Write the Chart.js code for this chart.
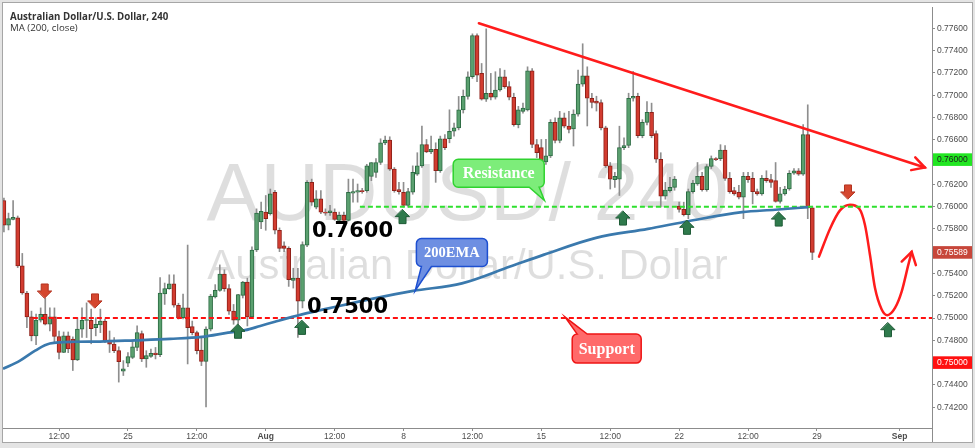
<!DOCTYPE html>
<html>
<head>
<meta charset="utf-8">
<title>AUDUSD 240</title>
<script src="https://cdn.jsdelivr.net/npm/chart.js"></script>
<style>
  html, body { margin: 0; padding: 0; background: #fff; }
  #wrap { width: 975px; height: 448px; }
</style>
</head>
<body>
<div id="wrap"><canvas id="js--chart" width="975" height="448"></canvas></div>
<script>
// 4h candles. x = bar number (Mon 25 Jul 00:00 = bar 30), y = price
const firstBar = 3;

const opens = [
  0.76055, 0.75833, 0.75886, 0.75900, 0.75468, 0.75225, 0.75011, 0.74840, 0.74980, 0.75033,
  0.74944, 0.75011, 0.74834, 0.74691, 0.74840, 0.74811, 0.74624, 0.74900, 0.74978, 0.74980,
  0.74914, 0.74938, 0.74973, 0.74802, 0.74766, 0.74707, 0.74523, 0.74594, 0.74647, 0.74736,
  0.74860, 0.74633, 0.74656, 0.74686, 0.74671, 0.75216, 0.75264, 0.75308, 0.75115, 0.75003,
  0.75091, 0.74923, 0.74869, 0.74713, 0.74611, 0.74900, 0.75189, 0.75249, 0.75394, 0.75264,
  0.75062, 0.74980, 0.75204, 0.75323, 0.75009, 0.75611, 0.75862, 0.75951, 0.75936, 0.76129,
  0.75788, 0.75649, 0.75625, 0.75338, 0.75358, 0.75151, 0.75655, 0.76218, 0.75996, 0.76069,
  0.75951, 0.75945, 0.75951, 0.75877, 0.75922, 0.75877, 0.76120, 0.76129, 0.76144, 0.76144,
  0.76271, 0.76307, 0.76396, 0.76573, 0.76597, 0.76336, 0.76153, 0.76129, 0.76011, 0.76129,
  0.76292, 0.76366, 0.76558, 0.76491, 0.76514, 0.76322, 0.76609, 0.76609, 0.76677, 0.76707,
  0.76869, 0.76989, 0.77166, 0.77536, 0.77196, 0.76965, 0.77018, 0.76982, 0.77047, 0.77166,
  0.77077, 0.76982, 0.76736, 0.76855, 0.76869, 0.77220, 0.76558, 0.76529, 0.76402, 0.76455,
  0.76757, 0.76594, 0.76796, 0.76722, 0.76698, 0.76831, 0.77100, 0.77175, 0.76973, 0.76947,
  0.76935, 0.76707, 0.76366, 0.76242, 0.76247, 0.76529, 0.76549, 0.76973, 0.76989, 0.76638,
  0.76757, 0.76846, 0.76656, 0.76425, 0.76093, 0.76144, 0.76173, 0.76004, 0.75975, 0.75927,
  0.76135, 0.76203, 0.76271, 0.76153, 0.76360, 0.76431, 0.76431, 0.76508, 0.76253, 0.76144,
  0.76129, 0.76084, 0.76271, 0.76253, 0.76135, 0.76114, 0.76253, 0.76242, 0.76233, 0.76046,
  0.76114, 0.76158, 0.76300, 0.76322, 0.76292, 0.76647, 0.75989
];
const highs = [
  0.76076, 0.75942, 0.76055, 0.75916, 0.75580, 0.75240, 0.75062, 0.75035, 0.75091, 0.75180,
  0.75091, 0.75091, 0.74884, 0.74875, 0.74875, 0.74831, 0.75003, 0.75091, 0.75136, 0.75080,
  0.75003, 0.75080, 0.74991, 0.74884, 0.74825, 0.74742, 0.74618, 0.74689, 0.74795, 0.74929,
  0.74884, 0.74707, 0.74722, 0.74736, 0.75364, 0.75314, 0.75388, 0.75388, 0.75133, 0.75216,
  0.75655, 0.74973, 0.74884, 0.74825, 0.74920, 0.75213, 0.75300, 0.75477, 0.75433, 0.75300,
  0.75122, 0.75213, 0.75329, 0.75358, 0.75640, 0.75980, 0.76040, 0.76100, 0.76158, 0.76147,
  0.75809, 0.75684, 0.75640, 0.75447, 0.75447, 0.75684, 0.76233, 0.76247, 0.76144, 0.76144,
  0.75980, 0.76011, 0.75980, 0.75951, 0.75951, 0.76247, 0.76247, 0.76203, 0.76164, 0.76380,
  0.76396, 0.76431, 0.76609, 0.76633, 0.76627, 0.76351, 0.76218, 0.76218, 0.76164, 0.76366,
  0.76484, 0.76722, 0.76603, 0.76633, 0.76573, 0.76633, 0.76647, 0.76869, 0.76751, 0.76989,
  0.77047, 0.77211, 0.77551, 0.77551, 0.77285, 0.77596, 0.77196, 0.77211, 0.77240, 0.77225,
  0.77122, 0.77018, 0.76900, 0.76929, 0.77255, 0.77240, 0.76603, 0.76603, 0.76603, 0.76781,
  0.76796, 0.76855, 0.76840, 0.76855, 0.76869, 0.77225, 0.77462, 0.77255, 0.77018, 0.76991,
  0.76958, 0.76722, 0.76396, 0.76307, 0.76722, 0.76618, 0.77018, 0.77213, 0.77018, 0.76781,
  0.76944, 0.76929, 0.76680, 0.76484, 0.76218, 0.76262, 0.76271, 0.76040, 0.76040, 0.76158,
  0.76236, 0.76396, 0.76307, 0.76378, 0.76455, 0.76440, 0.76556, 0.76547, 0.76307, 0.76173,
  0.76191, 0.76307, 0.76307, 0.76307, 0.76158, 0.76280, 0.76322, 0.76289, 0.76396, 0.76173,
  0.76182, 0.76324, 0.76342, 0.76342, 0.76736, 0.76914, 0.76004
];
const lows = [
  0.75773, 0.75791, 0.75880, 0.75453, 0.75213, 0.74914, 0.74795, 0.74760, 0.74964, 0.74938,
  0.74884, 0.74780, 0.74633, 0.74689, 0.74689, 0.74529, 0.74618, 0.74825, 0.74825, 0.74769,
  0.74840, 0.74869, 0.74778, 0.74691, 0.74689, 0.74425, 0.74484, 0.74564, 0.74635, 0.74707,
  0.74609, 0.74558, 0.74647, 0.74633, 0.74653, 0.75122, 0.75258, 0.75098, 0.74991, 0.74991,
  0.74588, 0.74849, 0.74677, 0.74573, 0.74203, 0.74884, 0.75180, 0.75240, 0.75240, 0.75033,
  0.74944, 0.74929, 0.75180, 0.74929, 0.75000, 0.75596, 0.75803, 0.75788, 0.75924, 0.75756,
  0.75596, 0.75596, 0.75284, 0.75269, 0.74825, 0.75091, 0.75640, 0.76011, 0.75980, 0.75936,
  0.75922, 0.75922, 0.75877, 0.75862, 0.75871, 0.75871, 0.76040, 0.76040, 0.76120, 0.76129,
  0.76233, 0.76262, 0.76378, 0.76556, 0.76324, 0.76129, 0.76111, 0.75996, 0.75996, 0.76111,
  0.76280, 0.76351, 0.76484, 0.76476, 0.76218, 0.76307, 0.76511, 0.76573, 0.76633, 0.76689,
  0.76840, 0.76965, 0.77151, 0.77122, 0.76956, 0.76944, 0.76958, 0.76965, 0.77036, 0.77062,
  0.76958, 0.76722, 0.76707, 0.76840, 0.76858, 0.76529, 0.76440, 0.76366, 0.76378, 0.76440,
  0.76573, 0.76573, 0.76707, 0.76662, 0.76544, 0.76813, 0.77080, 0.76724, 0.76885, 0.76858,
  0.76689, 0.76351, 0.76158, 0.76173, 0.76100, 0.76511, 0.76529, 0.76947, 0.76618, 0.76618,
  0.76733, 0.76618, 0.76396, 0.75996, 0.76067, 0.76129, 0.76147, 0.75951, 0.75916, 0.75892,
  0.76120, 0.76191, 0.76138, 0.76138, 0.76342, 0.76413, 0.76413, 0.76236, 0.76120, 0.76102,
  0.76069, 0.75892, 0.76218, 0.76025, 0.76102, 0.76102, 0.76218, 0.76173, 0.76040, 0.76031,
  0.76102, 0.76147, 0.76289, 0.76280, 0.76280, 0.75892, 0.75524
];
const closes = [
  0.75833, 0.75892, 0.75904, 0.75468, 0.75225, 0.75011, 0.74840, 0.74982, 0.75033, 0.74944,
  0.75011, 0.74834, 0.74691, 0.74840, 0.74722, 0.74624, 0.74900, 0.74980, 0.74985, 0.74905,
  0.74944, 0.74973, 0.74795, 0.74766, 0.74707, 0.74609, 0.74544, 0.74653, 0.74742, 0.74869,
  0.74633, 0.74662, 0.74683, 0.74671, 0.75225, 0.75264, 0.75308, 0.75115, 0.75003, 0.75091,
  0.74914, 0.74869, 0.74707, 0.74611, 0.74900, 0.75196, 0.75249, 0.75394, 0.75264, 0.75062,
  0.74980, 0.75211, 0.75323, 0.75009, 0.75611, 0.75942, 0.75957, 0.75892, 0.76114, 0.75788,
  0.75625, 0.75625, 0.75344, 0.75358, 0.75151, 0.75660, 0.76218, 0.76040, 0.76069, 0.75951,
  0.75942, 0.75963, 0.75886, 0.75922, 0.75877, 0.76129, 0.76135, 0.76144, 0.76135, 0.76366,
  0.76396, 0.76396, 0.76573, 0.76597, 0.76336, 0.76144, 0.76135, 0.76011, 0.76135, 0.76307,
  0.76366, 0.76558, 0.76491, 0.76514, 0.76322, 0.76609, 0.76529, 0.76677, 0.76707, 0.76869,
  0.76989, 0.77166, 0.77536, 0.77181, 0.76965, 0.77018, 0.76982, 0.77047, 0.77166, 0.77077,
  0.76982, 0.76736, 0.76869, 0.76885, 0.77220, 0.76558, 0.76484, 0.76411, 0.76455, 0.76757,
  0.76594, 0.76796, 0.76722, 0.76692, 0.76831, 0.77100, 0.77175, 0.76973, 0.76935, 0.76929,
  0.76707, 0.76366, 0.76247, 0.76271, 0.76529, 0.76549, 0.76973, 0.76989, 0.76638, 0.76757,
  0.76846, 0.76638, 0.76425, 0.76093, 0.76149, 0.76173, 0.76247, 0.75975, 0.75927, 0.76135,
  0.76212, 0.76271, 0.76153, 0.76360, 0.76431, 0.76422, 0.76508, 0.76253, 0.76135, 0.76114,
  0.76084, 0.76271, 0.76242, 0.76135, 0.76114, 0.76253, 0.76233, 0.76218, 0.76046, 0.76114,
  0.76158, 0.76300, 0.76322, 0.76292, 0.76647, 0.75989, 0.75589
];

// 200 EMA read at a few bars
const emaBars = [2.8, 6.5, 9.8, 13.0, 18.5, 23.9, 31.5, 39.2, 46.1, 51.8, 55.5, 58.8, 62.0,
  67.9, 75.5, 83.1, 92.1, 102.7, 113.2, 120.6, 131.9, 143.2, 152.2, 163.7, 170.9, 178.1];
const emaValues = [0.74544, 0.74618, 0.74707, 0.74771, 0.74787, 0.74789, 0.74800, 0.74813,
  0.74831, 0.74869, 0.74891, 0.74929, 0.74967, 0.75033, 0.75104, 0.75172, 0.75244, 0.75311,
  0.75462, 0.75569, 0.75720, 0.75800, 0.75871, 0.75951, 0.75972, 0.75996];

const xTickBars = [15, 30, 45, 60, 75, 90, 105, 120, 135, 150, 165, 180, 198];
const xTickLabels = ['12:00', '25', '12:00', 'Aug', '12:00', '8', '12:00', '15', '12:00', '22', '12:00', '29', 'Sep'];
const boldXLabels = ['Aug', 'Sep'];

const yTickValues = [0.742, 0.744, 0.746, 0.748, 0.750, 0.752, 0.754, 0.756, 0.758,
  0.760, 0.762, 0.764, 0.766, 0.768, 0.770, 0.772, 0.774, 0.776];
const yTickLabels = ['0.74200', '0.74400', '', '0.74800', '0.75000', '0.75200', '0.75400', '',
  '0.75800', '0.76000', '0.76200', '', '0.76600', '0.76800', '0.77000', '0.77200', '0.77400', '0.77600'];

// price boxes on the right axis
const axisBoxPrices = [0.76422, 0.75589, 0.74600];
const axisBoxLabels = ['0.76000', '0.75589', '0.75000'];
const axisBoxColors = ['#22e622', '#c7463a', '#ff1010'];
const axisBoxText = ['#1b1b1b', '#ffffff', '#ffffff'];

// drawings
const resistanceLevel = 0.7600;
const resistanceFrom = 80.5;
const supportLevel = 0.7500;
const supportFrom = 9.3;
const trendBars = [106.4, 203.5];
const trendPrices = [0.77646, 0.76351];
const pathBars = [180.45, 182.85, 185.02, 187.2, 189.22, 190.47, 191.55, 192.64, 194.1, 195.32, 197.0, 198.46, 199.89, 200.63];
const pathPrices = [0.75551, 0.75802, 0.75966, 0.76016, 0.75980, 0.75833, 0.75566, 0.75269, 0.75077, 0.75026, 0.75091, 0.75240, 0.75477, 0.75595];
const downArrowBars = [11.88, 22.83, 186.76];
const downArrowPrices = [0.75180, 0.75091, 0.76069];
const upArrowBars = [53.96, 67.9, 89.78, 137.78, 151.71, 171.68, 195.47];
const upArrowPrices = [0.74944, 0.74979, 0.75973, 0.75960, 0.75877, 0.75951, 0.74958];

const callouts = [
  { text: 'Resistance', bar: 110.72, price: 0.76300, w: 91, h: 28, side: 'bottom', tipBar: 120.67, tipPrice: 0.76055,
    fill: '#7ded7a', edge: '#2fd22f', size: 16, base: 'right' },
  { text: 'Support', bar: 134.23, price: 0.74726, w: 69, h: 29, side: 'top', tipBar: 125.15, tipPrice: 0.75009,
    fill: '#ff6a6a', edge: '#ee1515', size: 16, base: 'left' },
  { text: '200EMA', bar: 100.53, price: 0.75588, w: 71, h: 28, side: 'bottom', tipBar: 92.54, tipPrice: 0.75246,
    fill: '#6e8fe2', edge: '#1d4fd0', size: 14.5, base: 'left' }
];
const levelTexts = ['0.7600', '0.7500'];
const levelTextBars = [70.07, 68.98];
const levelTextPrices = [0.75729, 0.75044];

const bars = opens.map(function(o, k){ return firstBar + k; });
const isUp = opens.map(function(o, k){ return closes[k] >= o; });

function calloutPath(c, x, y, w, h, r, side, b1, b2, tx, ty){
  c.beginPath();
  c.moveTo(x + r, y);
  if (side === 'top'){ c.lineTo(b1, y); c.lineTo(tx, ty); c.lineTo(b2, y); }
  c.lineTo(x + w - r, y);
  c.arcTo(x + w, y, x + w, y + r, r);
  c.lineTo(x + w, y + h - r);
  c.arcTo(x + w, y + h, x + w - r, y + h, r);
  if (side === 'bottom'){ c.lineTo(b2, y + h); c.lineTo(tx, ty); c.lineTo(b1, y + h); }
  c.lineTo(x + r, y + h);
  c.arcTo(x, y + h, x, y + h - r, r);
  c.lineTo(x, y + r);
  c.arcTo(x, y, x + r, y, r);
  c.closePath();
}

function blockArrow(c, tx, ty, dir, fill, edge){
  // dir 1 = pointing down, -1 = pointing up
  const s = dir;
  c.beginPath();
  c.moveTo(tx, ty);
  c.lineTo(tx + 7, ty - 7 * s);
  c.lineTo(tx + 3.5, ty - 7 * s);
  c.lineTo(tx + 3.5, ty - 14 * s);
  c.lineTo(tx - 3.5, ty - 14 * s);
  c.lineTo(tx - 3.5, ty - 7 * s);
  c.lineTo(tx - 7, ty - 7 * s);
  c.closePath();
  c.fillStyle = fill;
  c.fill();
  c.strokeStyle = edge;
  c.lineWidth = 1;
  c.stroke();
}

function arrowHead(c, x0, y0, x1, y1, len, ang){
  const a = Math.atan2(y1 - y0, x1 - x0);
  c.beginPath();
  c.moveTo(x1 - len * Math.cos(a - ang), y1 - len * Math.sin(a - ang));
  c.lineTo(x1, y1);
  c.lineTo(x1 - len * Math.cos(a + ang), y1 - len * Math.sin(a + ang));
  c.stroke();
}

const drawings = {
  id: 'drawings',
  beforeDraw(chart){
    const c = chart.ctx;
    c.save();
    c.fillStyle = '#e4e4e4';
    c.fillRect(0, 0, chart.width, chart.height);
    c.fillStyle = '#ffffff';
    c.fillRect(3, 3, 969, 439);
    c.strokeStyle = '#a6a6a6';
    c.lineWidth = 1;
    c.strokeRect(2.5, 2.5, 970, 440);
    c.restore();
  },
  beforeDatasetsDraw(chart){
    const c = chart.ctx;
    const a = chart.chartArea;
    const cx = (a.left + a.right) / 2;
    const cy = (a.top + a.bottom) / 2;
    c.save();
    c.beginPath();
    c.rect(a.left, a.top, a.right - a.left, a.bottom - a.top);
    c.clip();
    c.fillStyle = 'rgba(0, 0, 0, 0.13)';
    c.textAlign = 'center';
    c.textBaseline = 'alphabetic';
    c.font = '81px "Liberation Sans"';
    c.fillText('AUDUSD/ 240', cx, cy + 2.5);
    c.font = '41.8px "Liberation Sans"';
    c.fillText('Australian Dollar/U.S. Dollar', cx, cy + 61.5);
    c.restore();
  },
  afterDatasetsDraw(chart){
    const c = chart.ctx;
    const xs = chart.scales.x, ys = chart.scales.y;
    const px = function(v){ return xs.getPixelForValue(v); };
    const py = function(v){ return ys.getPixelForValue(v); };
    c.save();

    // arrow heads on the red lines
    c.strokeStyle = '#ff1c1c';
    c.lineWidth = 2.5;
    c.lineCap = 'round';
    arrowHead(c, px(trendBars[0]), py(trendPrices[0]), px(trendBars[1]), py(trendPrices[1]), 14, 0.5);
    const n = pathBars.length;
    arrowHead(c, px(pathBars[n - 3]), py(pathPrices[n - 3]), px(pathBars[n - 1]), py(pathPrices[n - 1]), 14, 0.55);

    // block arrows
    downArrowBars.forEach(function(b, k){
      blockArrow(c, px(b), py(downArrowPrices[k]), 1, '#d5472f', '#b3321f');
    });
    upArrowBars.forEach(function(b, k){
      blockArrow(c, px(b), py(upArrowPrices[k]), -1, '#2f7a4c', '#1f5c37');
    });

    // callouts
    callouts.forEach(function(o){
      const cx = px(o.bar), cy = py(o.price);
      const x = cx - o.w / 2, y = cy - o.h / 2;
      const b1 = o.base === 'right' ? x + o.w - 15 : x + 5;
      const b2 = o.base === 'right' ? x + o.w - 5 : x + 15;
      calloutPath(c, x, y, o.w, o.h, 5, o.side, b1, b2, px(o.tipBar), py(o.tipPrice));
      c.fillStyle = o.fill;
      c.fill();
      c.strokeStyle = o.edge;
      c.lineWidth = 1.5;
      c.stroke();
      c.fillStyle = '#ffffff';
      c.font = 'bold ' + o.size + 'px "Liberation Serif"';
      c.textAlign = 'center';
      c.textBaseline = 'middle';
      c.fillText(o.text, cx, cy + 1);
    });

    // level texts
    c.fillStyle = '#000000';
    c.font = 'bold 21px "DejaVu Sans"';
    c.textAlign = 'left';
    c.textBaseline = 'alphabetic';
    levelTexts.forEach(function(t, k){
      c.fillText(t, px(levelTextBars[k]), py(levelTextPrices[k]));
    });
    c.restore();
  },
  afterDraw(chart){
    const c = chart.ctx;
    const a = chart.chartArea;
    const ys = chart.scales.y;
    c.save();
    // frame of the pane
    c.strokeStyle = '#8c8c8c';
    c.lineWidth = 1;
    c.beginPath();
    c.moveTo(a.right + 0.5, a.bottom);
    c.lineTo(a.right + 0.5, 442);
    c.stroke();

    // price boxes on the axis
    c.font = '8.5px "Liberation Sans"';
    c.textBaseline = 'middle';
    c.textAlign = 'left';
    axisBoxPrices.forEach(function(p, k){
      const y = ys.getPixelForValue(p);
      c.fillStyle = axisBoxColors[k];
      c.fillRect(a.right + 1, y - 6.3, 39, 12.6);
      c.fillStyle = axisBoxText[k];
      c.fillText(axisBoxLabels[k], a.right + 5, y + 0.5);
    });

    // title
    c.fillStyle = '#333333';
    c.font = 'bold 9.7px "Open Sans"';
    c.textBaseline = 'alphabetic';
    c.fillText('Australian Dollar/U.S. Dollar, 240', 10, 19.5);
    c.font = '9.7px "Open Sans"';
    c.fillText('MA (200, close)', 10, 31);
    c.restore();
  }
};

const chart = new Chart(document.getElementById('js--chart'), {
  type: 'bar',
  data: {
    datasets: [
      {
        type: 'line', label: 'MA (200, close)', order: 0,
        data: emaBars.map(function(b, k){ return { x: b, y: emaValues[k] }; }),
        borderColor: '#3a79ad', borderWidth: 2.7, pointRadius: 0, cubicInterpolationMode: 'monotone'
      },
      {
        type: 'line', label: 'Resistance', order: 0,
        data: [{ x: resistanceFrom, y: resistanceLevel }, { x: 205.05, y: resistanceLevel }],
        borderColor: '#2ee02e', borderWidth: 2, borderDash: [5, 3], pointRadius: 0
      },
      {
        type: 'line', label: 'Support', order: 0,
        data: [{ x: supportFrom, y: supportLevel }, { x: 205.05, y: supportLevel }],
        borderColor: '#ff1010', borderWidth: 2, borderDash: [5, 3], pointRadius: 0
      },
      {
        type: 'line', label: 'Trend', order: 0,
        data: trendBars.map(function(b, k){ return { x: b, y: trendPrices[k] }; }),
        borderColor: '#ff1c1c', borderWidth: 2.5, pointRadius: 0, borderCapStyle: 'round'
      },
      {
        type: 'line', label: 'Path', order: 0,
        data: pathBars.map(function(b, k){ return { x: b, y: pathPrices[k] }; }),
        borderColor: '#ff1c1c', borderWidth: 2.5, pointRadius: 0, borderCapStyle: 'round',
        cubicInterpolationMode: 'monotone'
      },
      {
        label: 'Bodies', order: 1, grouped: false,
        data: bars.map(function(b, k){ return { x: b, y: [opens[k], closes[k]] }; }),
        backgroundColor: isUp.map(function(u){ return u ? '#5aa06f' : '#d23c30'; }),
        borderColor: isUp.map(function(u){ return u ? '#2c6b43' : '#8f2119'; }),
        borderWidth: 1, borderSkipped: false, barThickness: 4, minBarLength: 1
      },
      {
        label: 'Wicks', order: 2, grouped: false,
        data: bars.map(function(b, k){ return { x: b, y: [lows[k], highs[k]] }; }),
        backgroundColor: '#8e8e8e', barThickness: 1, minBarLength: 1
      }
    ]
  },
  options: {
    responsive: false,
    devicePixelRatio: 1,
    animation: false,
    events: [],
    layout: { padding: { left: 3, top: 3, right: 3, bottom: 6 } },
    plugins: { legend: { display: false }, tooltip: { enabled: false } },
    scales: {
      x: {
        type: 'linear', min: 2.8, max: 205.05, offset: false,
        grid: { offset: false, drawOnChartArea: false, drawTicks: true, tickLength: 3, color: '#8c8c8c' },
        border: { display: true, color: '#8c8c8c' },
        afterBuildTicks: function(s){ s.ticks = xTickBars.map(function(v){ return { value: v }; }); },
        afterFit: function(s){ s.height = 14; },
        ticks: {
          autoSkip: false, maxRotation: 0, padding: 1, color: '#4d4d4d',
          callback: function(v, i){ return xTickLabels[i]; },
          font: function(ctx){
            return { family: 'Liberation Sans', size: 8.5,
              weight: boldXLabels.indexOf(xTickLabels[ctx.index]) >= 0 ? 'bold' : 'normal' };
          }
        }
      },
      y: {
        type: 'linear', position: 'right', min: 0.74013, max: 0.77791, beginAtZero: false,
        grid: { drawOnChartArea: false, drawTicks: true, tickLength: 3, color: '#8c8c8c' },
        border: { display: true, color: '#8c8c8c' },
        afterBuildTicks: function(s){ s.ticks = yTickValues.map(function(v){ return { value: v }; }); },
        afterFit: function(s){ s.width = 40; },
        ticks: {
          autoSkip: false, padding: 2, color: '#4d4d4d',
          font: { family: 'Liberation Sans', size: 8.5 },
          callback: function(v, i){ return yTickLabels[i]; }
        }
      }
    }
  },
  plugins: [drawings]
});
</script>
</body>
</html>
